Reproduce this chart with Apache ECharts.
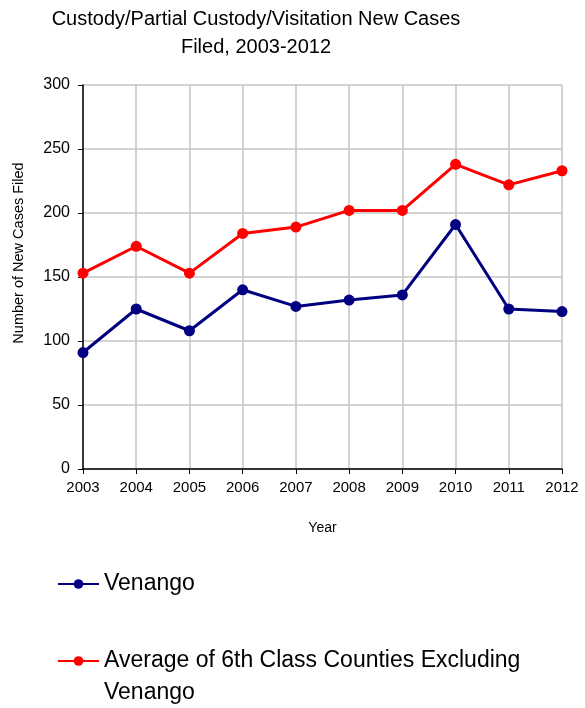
<!DOCTYPE html>
<html>
<head>
<meta charset="utf-8">
<script src="https://cdn.jsdelivr.net/npm/echarts@6/dist/echarts.min.js"></script>
<style>
  html, body { margin: 0; padding: 0; background: #fff; }
  #chart { width: 585px; height: 708px; }
</style>
</head>
<body>
<div id="chart"></div>
<script>
  // years on the x axis
  var years = ['2003', '2004', '2005', '2006', '2007', '2008', '2009', '2010', '2011', '2012']
  // Venango new cases
  var venango = [91, 125, 108, 140, 127, 132, 136, 191, 125, 123]
  // average of 6th class counties (excl. Venango)
  var average = [153, 174, 153, 184, 189, 202, 202, 238, 222, 233]

  var nameVen = 'Venango'
  var nameAvg = 'Average of 6th Class Counties Excluding Venango'

  var font = 'Liberation Sans, Arial, sans-serif'

  var myChart = echarts.init(document.getElementById('chart'))
  var options = {
    backgroundColor: '#fff',
    animation: false,
    title: {
      text: 'Custody/Partial Custody/Visitation New Cases\nFiled, 2003-2012',
      left: 251,
      textAlign: 'center',
      top: 0,
      textStyle: {
        fontFamily: font,
        fontWeight: 'normal',
        fontSize: 20,
        lineHeight: 28,
        color: '#000'
      }
    },
    legend: [{
      orient: 'vertical',
      left: 57,
      top: 571,
      padding: 0,
      itemWidth: 41,
      itemHeight: 12,
      data: [nameVen],
      textStyle: { fontFamily: font, fontSize: 23, color: '#000', lineHeight: 26 }
    }, {
      orient: 'vertical',
      left: 57,
      top: 613,
      padding: 0,
      itemWidth: 41,
      itemHeight: 12,
      data: [nameAvg],
      // blank first line keeps the icon next to the first text line
      formatter: function () {
        return ' \nAverage of 6th Class Counties Excluding\nVenango'
      },
      textStyle: { fontFamily: font, fontSize: 23, color: '#000', lineHeight: 32 }
    }],
    grid: {
      left: 83,
      right: 23,
      top: 85,
      bottom: 239
    },
    xAxis: {
      type: 'category',
      data: years,
      boundaryGap: false,
      name: 'Year',
      nameLocation: 'middle',
      nameGap: 52,
      nameTextStyle: { fontFamily: font, fontSize: 14, color: '#000' },
      axisLine: { lineStyle: { color: '#000', width: 1.5 } },
      axisTick: { show: true, length: 5, lineStyle: { color: '#000' } },
      axisLabel: { fontFamily: font, fontSize: 15, color: '#000', margin: 11 },
      splitLine: { show: true, lineStyle: { color: '#c4c4c4', width: 1.5 } }
    },
    yAxis: {
      type: 'value',
      min: 0,
      max: 300,
      interval: 50,
      name: 'Number of New Cases Filed',
      nameLocation: 'middle',
      nameGap: 57,
      nameTextStyle: { fontFamily: font, fontSize: 14.5, color: '#000', padding: [0, 0, 0, 48] },
      axisLine: { show: true, lineStyle: { color: '#000', width: 1.5 } },
      axisTick: { show: true, length: 5, lineStyle: { color: '#000' } },
      axisLabel: { fontFamily: font, fontSize: 16, color: '#000', margin: 13 },
      splitLine: { show: true, lineStyle: { color: '#c4c4c4', width: 1.5 } }
    },
    series: [{
      name: nameVen,
      type: 'line',
      data: venango,
      color: '#000080',
      symbol: 'circle',
      symbolSize: 11,
      lineStyle: { width: 3 },
      z: 3
    }, {
      name: nameAvg,
      type: 'line',
      data: average,
      color: '#ff0000',
      symbol: 'circle',
      symbolSize: 11,
      lineStyle: { width: 3 },
      z: 3
    }]
  }
  myChart.setOption(options)
</script>
</body>
</html>
